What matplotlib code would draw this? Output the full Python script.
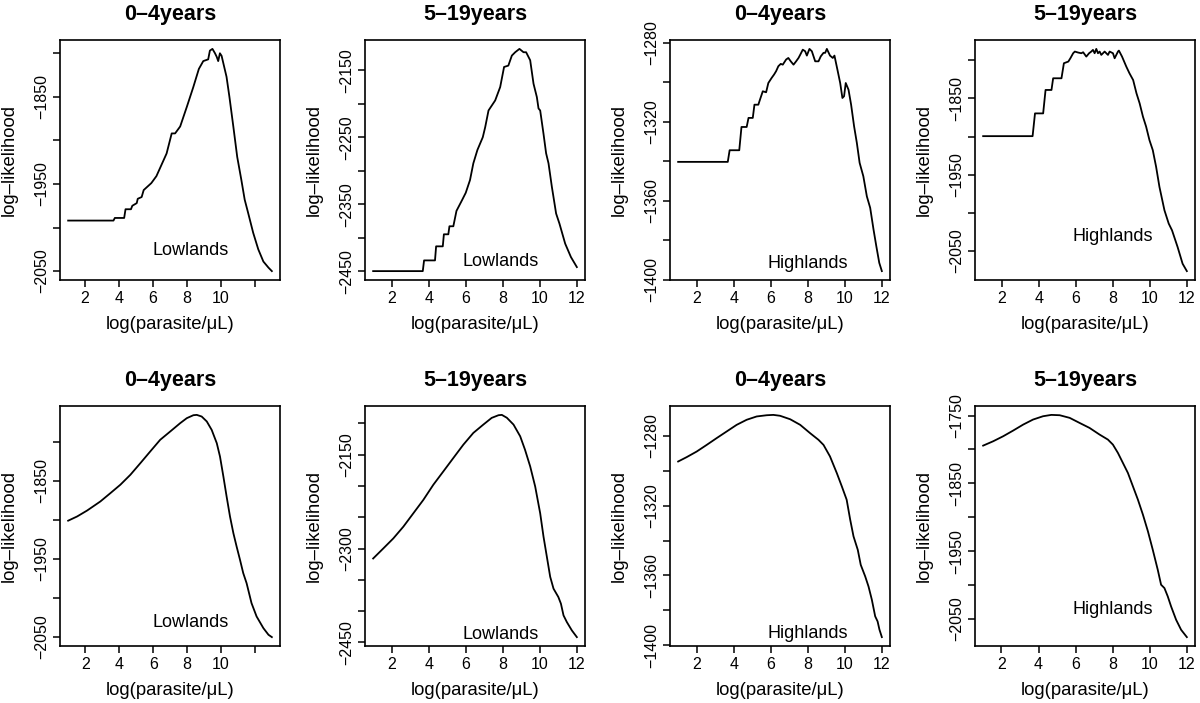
import matplotlib
matplotlib.use('Agg')
import matplotlib.pyplot as plt

plt.rcParams['font.family'] = ['Liberation Sans', 'DejaVu Sans']

# --- profile log-likelihood, top row (empirical) ---
x_low_04 = [1.0, 3.67, 3.75, 4.3, 4.38, 4.7, 4.78, 5.04, 5.1, 5.33, 5.45, 5.9, 6.2,
            6.5, 6.8, 7.1, 7.3, 7.6, 8.0, 8.37, 8.7, 8.96, 9.25, 9.35, 9.5, 9.65,
            9.75, 9.84, 9.94, 10.04, 10.33, 10.5, 10.73, 10.96, 11.2, 11.4, 11.6,
            11.9, 12.2, 12.5, 12.8, 13.0]
ll_low_04 = [-1992, -1992, -1989, -1989, -1979, -1979, -1975, -1972, -1967, -1965,
             -1957, -1949, -1941, -1928, -1915, -1892, -1892, -1884, -1861, -1839,
             -1818, -1809, -1807, -1797, -1795, -1800, -1804, -1809, -1800, -1803,
             -1827, -1850, -1884, -1919, -1945, -1968, -1983, -2006, -2025, -2039,
             -2046, -2050]

x_low_519 = [1.0, 3.68, 3.75, 4.34, 4.4, 4.76, 4.82, 5.06, 5.12, 5.33, 5.5, 5.8, 6.0,
             6.23, 6.41, 6.63, 6.92, 7.05, 7.23, 7.59, 7.86, 8.07, 8.3, 8.49, 8.67,
             8.9, 9.12, 9.26, 9.48, 9.66, 9.84, 9.93, 10.02, 10.2, 10.34, 10.47,
             10.65, 10.88, 11.06, 11.37, 11.68, 12.0]
ll_low_519 = [-2450, -2450, -2434, -2434, -2413, -2413, -2395, -2395, -2383, -2383,
              -2360, -2344, -2333, -2314, -2289, -2269, -2250, -2235, -2210, -2195,
              -2175, -2145, -2143, -2128, -2123, -2118, -2123, -2123, -2135, -2170,
              -2190, -2207, -2210, -2245, -2274, -2289, -2324, -2364, -2379, -2409,
              -2429, -2444]

x_high_04 = [1.0, 3.68, 3.78, 4.3, 4.42, 4.7, 4.8, 5.03, 5.12, 5.33, 5.42, 5.57, 5.75,
             5.87, 6.05, 6.18, 6.29, 6.41, 6.54, 6.65, 6.83, 6.95, 7.08, 7.23, 7.37,
             7.5, 7.59, 7.73, 7.86, 7.95, 8.09, 8.22, 8.4, 8.58, 8.7, 8.85, 8.94,
             9.03, 9.2, 9.35, 9.44, 9.6, 9.75, 9.87, 9.96, 10.05, 10.2, 10.34, 10.5,
             10.65, 10.8, 11.0, 11.19, 11.37, 11.55, 11.7, 11.86, 12.0]
ll_high_04 = [-1340.3, -1340.3, -1334.4, -1334.4, -1322.6, -1322.6, -1318.0, -1318.0,
              -1311.3, -1311.3, -1308.7, -1304.5, -1305.0, -1300.3, -1297.7, -1296.0,
              -1294.3, -1291.8, -1290.6, -1291.0, -1288.4, -1287.6, -1289.3, -1291.0,
              -1289.3, -1287.6, -1286.0, -1283.4, -1284.2, -1286.4, -1283.0, -1284.2,
              -1289.3, -1289.3, -1286.8, -1285.0, -1285.0, -1283.0, -1286.4, -1287.6,
              -1286.4, -1293.5, -1300.3, -1307.9, -1307.0, -1300.3, -1303.7, -1311.3,
              -1322.2, -1330.7, -1340.8, -1347.6, -1357.8, -1363.6, -1374.6, -1383.0,
              -1391.5, -1395.7]

x_high_519 = [1.0, 3.67, 3.8, 4.24, 4.37, 4.69, 4.78, 5.23, 5.36, 5.6, 5.71, 5.86, 5.95,
              6.13, 6.3, 6.4, 6.57, 6.72, 6.84, 6.93, 7.02, 7.11, 7.2, 7.29, 7.38,
              7.56, 7.65, 7.74, 7.83, 8.01, 8.1, 8.28, 8.33, 8.5, 8.73, 8.9, 9.1,
              9.28, 9.45, 9.63, 9.8, 9.98, 10.16, 10.34, 10.52, 10.79, 11.02, 11.2,
              11.5, 11.77, 12.0]
ll_high_519 = [-1899.5, -1899.5, -1869.7, -1869.7, -1839.0, -1839.0, -1823.7, -1823.7,
               -1804.0, -1801.8, -1797.5, -1790.9, -1788.7, -1790.0, -1790.9, -1789.6,
               -1795.3, -1790.9, -1788.7, -1786.5, -1790.9, -1785.2, -1790.9, -1788.7,
               -1793.1, -1788.7, -1790.9, -1793.1, -1788.7, -1790.9, -1797.5, -1788.7,
               -1787.4, -1795.3, -1808.4, -1817.1, -1826.0, -1843.4, -1856.5, -1874.0,
               -1887.0, -1904.7, -1917.8, -1939.7, -1966.0, -1996.6, -2014.0, -2022.9,
               -2044.7, -2066.6, -2076.3]

# --- bottom row (smoothed) ---
xs_low_04 = [0.98, 1.51, 2.1, 2.88, 3.47, 4.06, 4.65, 5.24, 5.82, 6.41, 7.0, 7.59,
             7.98, 8.37, 8.57, 8.86, 9.16, 9.45, 9.75, 9.94, 10.14, 10.33, 10.53,
             10.73, 10.92, 11.12, 11.31, 11.51, 11.8, 12.1, 12.5, 12.8, 13.0]
lls_low_04 = [-1901, -1895.6, -1888, -1876.4, -1865.8, -1855, -1842.3, -1827.4,
              -1812.5, -1797.5, -1786.9, -1776.2, -1769.8, -1766, -1765.6, -1767.7,
              -1774, -1784.8, -1801.8, -1818.9, -1844.5, -1870, -1895.6, -1917,
              -1934, -1951, -1968, -1981, -2006.5, -2023.6, -2038.5, -2047, -2050]

xs_low_519 = [1.0, 1.55, 2.09, 2.63, 3.17, 3.71, 4.25, 4.79, 5.33, 5.87, 6.41, 6.95,
              7.4, 7.77, 7.95, 8.22, 8.58, 8.94, 9.2, 9.48, 9.75, 10.02, 10.2, 10.38,
              10.56, 10.74, 11.0, 11.14, 11.28, 11.46, 11.73, 12.0]
lls_low_519 = [-2315.8, -2299.7, -2283.7, -2265, -2243.6, -2222.2, -2198, -2176.7,
               -2155.3, -2134, -2115.2, -2101.9, -2091.2, -2086.9, -2086.4, -2091,
               -2101.9, -2120.6, -2142, -2168.7, -2200.8, -2243.6, -2281, -2313,
               -2345, -2364, -2377.3, -2388, -2406.7, -2417.4, -2430.7, -2441.4]

xs_high_04 = [1.0, 1.46, 2.0, 2.54, 3.08, 3.62, 4.16, 4.7, 5.24, 5.78, 6.14, 6.5,
              7.05, 7.59, 8.13, 8.58, 8.85, 9.2, 9.57, 9.84, 10.1, 10.29, 10.47, 10.7,
              10.86, 11.1, 11.28, 11.46, 11.64, 11.77, 11.87, 12.0]
lls_high_04 = [-1294.7, -1292.2, -1289, -1285.2, -1281.3, -1277.5, -1273.7, -1270.8,
               -1268.9, -1268.2, -1268, -1268.5, -1270.5, -1273.7, -1278.5, -1282.3,
               -1285.2, -1291.8, -1301.4, -1309, -1316.6, -1328, -1337.6, -1345.3,
               -1353.9, -1360.5, -1366.3, -1373.9, -1383.4, -1386.3, -1391, -1395.3]

xs_high_519 = [1.01, 1.55, 2.09, 2.63, 3.17, 3.7, 4.24, 4.69, 5.14, 5.68, 6.21, 6.75,
               7.29, 7.74, 8.01, 8.28, 8.55, 8.82, 9.09, 9.36, 9.63, 9.9, 10.16, 10.43,
               10.61, 10.79, 10.97, 11.15, 11.42, 11.69, 12.0]
lls_high_519 = [-1794.3, -1787.9, -1780.5, -1772.1, -1763.3, -1755.9, -1751, -1749,
                -1749.5, -1753.4, -1760.8, -1768.2, -1778, -1785.4, -1792.8, -1805,
                -1819.8, -1834.6, -1854.3, -1874, -1896.1, -1920.7, -1947.7, -1977.3,
                -1999.4, -2004.3, -2016.6, -2031.4, -2051, -2065.8, -2076.6]

titles = ['0–4years', '5–19years', '0–4years', '5–19years']
regions = ['Lowlands', 'Lowlands', 'Highlands', 'Highlands']

x_ticks = [2, 4, 6, 8, 10, 12]
# (all ticks, labelled ticks) for every panel, row by row
y_ticks = [
    (range(-2050, -1799, 50), [-2050, -1950, -1850]),
    (range(-2450, -2149, 50), [-2450, -2350, -2250, -2150]),
    (range(-1400, -1279, 20), [-1400, -1360, -1320, -1280]),
    (range(-2050, -1799, 50), [-2050, -1950, -1850]),
    (range(-2050, -1799, 50), [-2050, -1950, -1850]),
    (range(-2450, -2099, 50), [-2450, -2300, -2150]),
    (range(-1400, -1279, 20), [-1400, -1360, -1320, -1280]),
    (range(-2050, -1749, 50), [-2050, -1950, -1850, -1750]),
]
# where the region name sits (data coords)
text_pos = [(8.2, -2026), (7.9, -2436), (8.0, -1392), (8.0, -2031),
            (8.2, -2031), (7.9, -2437), (8.0, -1393), (8.0, -2036)]

curves = [(x_low_04, ll_low_04), (x_low_519, ll_low_519),
          (x_high_04, ll_high_04), (x_high_519, ll_high_519),
          (xs_low_04, lls_low_04), (xs_low_519, lls_low_519),
          (xs_high_04, lls_high_04), (xs_high_519, lls_high_519)]

W, H = 1200, 703
fig = plt.figure(figsize=(W / 100, H / 100), dpi=100)
lefts = [60, 365, 670, 975]
tops = [40, 406]
tick_fs = 11.5

for i, (x, y) in enumerate(curves):
    row, col = divmod(i, 4)
    ax = fig.add_axes([lefts[col] / W, 1 - (tops[row] + 240) / H, 220 / W, 240 / H])
    ax.plot(x, y, color='black', linewidth=1.3)

    # R style axes: 4% padding
    xr = max(x) - min(x)
    yr = max(y) - min(y)

    ticks, labelled = y_ticks[i]
    ax.set_yticks(list(ticks))
    ax.set_yticklabels([('−%d' % -t) if t in labelled else '' for t in ticks],
                       rotation=90, va='center', fontsize=tick_fs)
    ax.set_xticks(x_ticks)
    xlabels = [str(t) for t in x_ticks]
    if max(x) > 12.5:
        xlabels[-1] = ''
    ax.set_xticklabels(xlabels, fontsize=tick_fs)
    ax.set_xlim(min(x) - 0.04 * xr, max(x) + 0.04 * xr)
    ax.set_ylim(min(y) - 0.04 * yr, max(y) + 0.04 * yr)

    ax.tick_params(direction='out', length=5, width=1.1, pad=3)
    for s in ax.spines.values():
        s.set_linewidth(1.2)

    ax.set_title(titles[col], fontsize=15.5, fontweight='bold', pad=14.5)
    ax.set_xlabel('log(parasite/μL)', fontsize=13.3)
    ax.set_ylabel('log–likelihood', fontsize=13.3)
    ax.xaxis.set_label_coords(0.5, -0.15)
    ax.yaxis.set_label_coords(-0.19, 0.5)
    ax.text(text_pos[i][0], text_pos[i][1], regions[col], fontsize=13,
            ha='center', va='center')

fig.savefig('out.png', dpi=100)
